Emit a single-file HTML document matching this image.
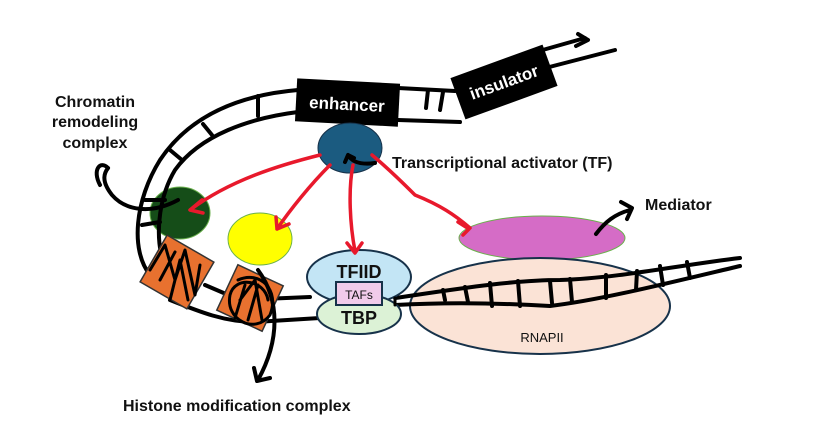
<!DOCTYPE html>
<html><head><meta charset="utf-8"><style>
html,body{margin:0;padding:0;background:#fff;width:817px;height:442px;overflow:hidden}
svg{display:block}
text{font-family:"Liberation Sans","Noto Sans CJK KR",sans-serif;font-weight:bold;fill:#111}
</style></head><body>
<svg width="817" height="442" viewBox="0 0 817 442">
<ellipse cx="542" cy="238" rx="83" ry="22" fill="#d56cc6" stroke="#6ab04c" stroke-width="1"/>
<ellipse cx="540" cy="306" rx="130" ry="48" fill="#fbe3d6" stroke="#17324a" stroke-width="2"/>
<ellipse cx="180" cy="213" rx="30" ry="26" fill="#154d18" stroke="#6ab04c" stroke-width="1"/>
<ellipse cx="260" cy="239" rx="32" ry="26" fill="#ffff00" stroke="#6ab04c" stroke-width="1"/>
<g fill="none" stroke="#000" stroke-width="4" stroke-linecap="round" stroke-linejoin="round">
<path d="M525 55 L585 38 M578 34 L588 40 L576 46"/>
<path d="M530 72 L615 50"/>
<path d="M398 88 L455 91 M398 120 L460 122"/>
<path d="M428 90 L426 108 M443 92 L440 110"/>
<path d="M298 90 C240 95 190 115 160 160 C135 200 130 250 150 275"/>
<path d="M298 112 C250 118 200 135 175 170 C160 195 155 230 162 258"/>
<path d="M258 96 L258 116 M203 124 L212 135 M170 150 L182 160 M145 200 L165 200 M142 225 L160 222"/>
<path d="M205 285 L240 300 L310 297 M170 300 C200 312 225 322 255 322 L320 318"/>
<path d="M395 298 C450 290 510 280 560 280 C620 278 680 265 740 258"/>
<path d="M395 305 C450 302 500 303 550 306 C600 300 660 285 740 266"/>
<path d="M443 290 L445 300 M465 287 L468 302 M490 283 L492 306 M518 281 L520 306 M550 281 L552 303 M570 279 L572 302 M606 275 L606 298 M637 271 L636 290 M660 266 L663 285 M687 262 L690 278"/>
<path d="M178 200 C150 215 125 210 112 195 C100 180 105 172 108 168"/>
<path d="M100 185 C92 170 100 160 108 168"/>
<path d="M596 234 C605 222 615 214 630 210 M621 202 L632 208 L627 219"/>
</g>
<g transform="rotate(3 347 103)"><rect x="296" y="81" width="103" height="43" fill="#000"/>
<text x="347" y="110" font-size="17" text-anchor="middle" style="fill:#fff">enhancer</text></g>
<g transform="rotate(-20 504 82)"><rect x="455" y="60" width="98" height="44" fill="#000"/>
<text x="504" y="88" font-size="17" text-anchor="middle" style="fill:#fff">insulator</text></g>
<ellipse cx="350" cy="148" rx="32" ry="25" fill="#1b5b80" stroke="#17324a" stroke-width="1"/>
<ellipse cx="359" cy="277" rx="52" ry="27" fill="#c3e5f5" stroke="#17324a" stroke-width="2"/>
<ellipse cx="359" cy="314" rx="42" ry="20" fill="#dcf2d6" stroke="#17324a" stroke-width="2"/>
<rect x="336" y="282" width="46" height="23" fill="#f1cbea" stroke="#17324a" stroke-width="2"/>
<g transform="rotate(30 177 272)"><rect x="150" y="245" width="54" height="54" fill="#e8712f" stroke="#333" stroke-width="1.5"/></g>
<g transform="rotate(25 250 298)"><rect x="225" y="273" width="50" height="50" fill="#e8712f" stroke="#333" stroke-width="1.5"/></g>
<g fill="none" stroke="#000" stroke-width="3" stroke-linecap="round" stroke-linejoin="round">
<path d="M150 270 L165 245 L175 280 L185 250 L195 295 L200 265 M170 300 L180 260 L188 300 M160 280 L175 252"/>
<path d="M238 280 C260 270 280 290 270 315 C255 335 225 320 230 295 C235 275 265 280 268 300 M240 300 L255 280 L262 320 M248 320 L258 285 M235 318 L245 285"/>
<path d="M395 298 L395 305"/>
<path d="M258 270 C280 300 280 340 258 380 M254 368 L257 381 L270 378" stroke-width="4"/>
<path d="M375 163 C360 165 352 162 348 155 L345 162 M348 155 L354 158" stroke-width="4"/>
</g>
<g fill="none" stroke="#e8192c" stroke-width="3.5" stroke-linecap="round" stroke-linejoin="round">
<path d="M320 155 C280 165 230 180 190 210 M202 200 L190 210 L203 213"/>
<path d="M330 165 C310 185 290 210 277 229 M276 217 L277 229 L289 224"/>
<path d="M353 165 C348 190 350 225 355 251 M347 243 L355 253 L362 243"/>
<path d="M372 155 C390 170 405 185 415 195 C440 205 455 215 470 228 M458 222 L469 229 L463 235"/>
</g>
<text x="359" y="278" font-size="18" text-anchor="middle">TFIID</text>
<text x="359" y="299" font-size="12" text-anchor="middle" style="font-weight:normal">TAFs</text>
<text x="359" y="324" font-size="18" text-anchor="middle">TBP</text>
<text x="542" y="342" font-size="13" text-anchor="middle" style="font-weight:normal">RNAPII</text>
<text x="392" y="168" font-size="16">Transcriptional activator (TF)</text>
<text x="645" y="210" font-size="16">Mediator</text>
<text x="95" y="107" font-size="16" text-anchor="middle">Chromatin</text>
<text x="95" y="127" font-size="16" text-anchor="middle">remodeling</text>
<text x="95" y="148" font-size="16" text-anchor="middle">complex</text>
<text x="123" y="411" font-size="16">Histone modification complex</text>
</svg>
</body></html>
